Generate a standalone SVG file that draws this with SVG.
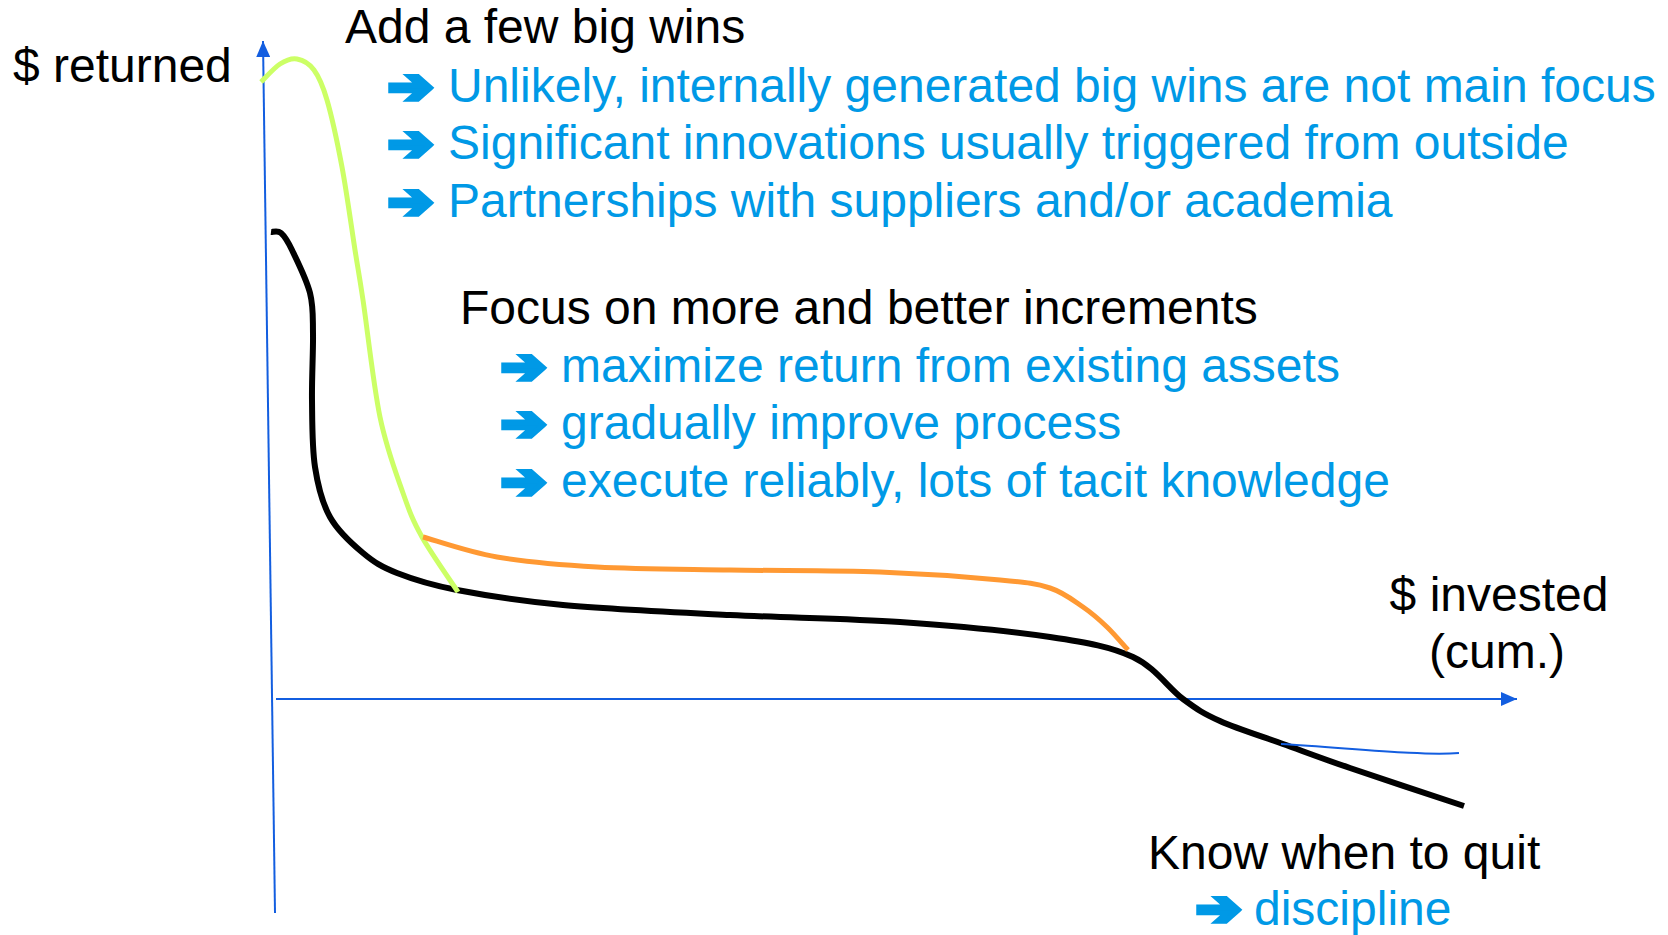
<svg xmlns="http://www.w3.org/2000/svg" width="1668" height="935" viewBox="0 0 1668 935">
<style>
text{font-family:"Liberation Sans",Arial,sans-serif;font-size:48px}
.k{fill:#000}
.b{fill:#0099e6}
.ar{font-family:"DejaVu Sans",sans-serif;fill:#0099e6;stroke:#0099e6;stroke-width:5;stroke-linejoin:miter;font-size:48px}
.axis{stroke:#135ee0;stroke-width:2;fill:none}
.curve{fill:none;stroke-linecap:butt;stroke-linejoin:round}
</style>
<defs>
<marker id="ah" viewBox="0 0 16 14" refX="16" refY="7" markerWidth="16" markerHeight="14" markerUnits="userSpaceOnUse" orient="auto">
<path d="M0,0 L16,7 L0,14 Z" fill="#135ee0"/>
</marker>
</defs>
<rect width="1668" height="935" fill="#fff"/>
<g id="axes">
<line class="axis" x1="275" y1="913" x2="263" y2="41" marker-end="url(#ah)"/>
<line class="axis" x1="276" y1="699" x2="1517" y2="699" marker-end="url(#ah)"/>
</g>
<g id="connectors">
<path id="curve-black" class="curve" stroke="#000" stroke-width="6" d="M271,232 C272.7,232.2 277.5,230 281,233 C284.5,236 287.2,240 292,250 C296.8,260 306.5,279.2 310,293 C313.5,306.8 312.7,315.2 313,333 C313.3,350.8 311.7,377.7 312,400 C312.3,422.3 312,447.5 315,467 C318,486.5 322,502.7 330,517 C338,531.3 351.8,543.7 363,553 C374.2,562.3 381.3,566.8 397,573 C412.7,579.2 429.3,584.7 457,590 C484.7,595.3 517.5,600.8 563,605 C608.5,609.2 673.8,612.2 730,615 C786.2,617.8 846.7,618.3 900,622 C953.3,625.7 1011.2,631.2 1050,637 C1088.8,642.8 1110.8,646.7 1133,657 C1155.2,667.3 1168.5,688.3 1183,699 C1197.5,709.7 1203.3,713.5 1220,721 C1236.7,728.5 1261.3,736.2 1283,744 C1304.7,751.8 1319.8,757.7 1350,768 C1380.2,778.3 1445,799.7 1464,806"/>
<path id="curve-green" class="curve" stroke="#ccff66" stroke-width="5" d="M261,82 C264.2,79 274,67.8 280,64 C286,60.2 291.3,58 297,59 C302.7,60 309,63.2 314,70 C319,76.8 322.3,83.8 327,100 C331.7,116.2 337.3,142 342,167 C346.7,192 351.5,227.8 355,250 C358.5,272.2 358.8,272.2 363,300 C367.2,327.8 373.3,384.8 380,417 C386.7,449.2 396,473 403,493 C410,513 412.8,520.5 422,537 C431.2,553.5 452,582.8 458,592"/>
<path id="curve-orange" class="curve" stroke="#ff9933" stroke-width="5" d="M423,537 C435.3,540.3 468,552 497,557 C526,562 558.2,564.8 597,567 C635.8,569.2 682.8,569.2 730,570 C777.2,570.8 835,570.3 880,572 C925,573.7 971.7,577.3 1000,580 C1028.3,582.7 1036.2,583.5 1050,588 C1063.8,592.5 1073.5,600.5 1083,607 C1092.5,613.5 1099.5,619.8 1107,627 C1114.5,634.2 1124.5,646.2 1128,650"/>
<path id="curve-blue" class="curve" stroke="#135ee0" stroke-width="2" d="M1281,744 C1350,748 1420,756 1459,753"/>
</g>
<g id="label-returned"><text class="k" x="13" y="82">$ returned</text></g>
<g id="label-invested">
<text class="k" x="1499" y="611" text-anchor="middle">$ invested</text>
<text class="k" x="1497" y="668" text-anchor="middle">(cum.)</text>
</g>
<g id="note-bigwins">
<text class="k" x="345" y="43">Add a few big wins</text>
<text class="ar" transform="translate(388,103) scale(1.12,1)">➔</text>
<text class="b" x="448" y="102">Unlikely, internally generated big wins are not main focus</text>
<text class="ar" transform="translate(388,160) scale(1.12,1)">➔</text>
<text class="b" x="448" y="159">Significant innovations usually triggered from outside</text>
<text class="ar" transform="translate(388,218) scale(1.12,1)">➔</text>
<text class="b" x="448" y="217">Partnerships with suppliers and/or academia</text>
</g>
<g id="note-increments">
<text class="k" x="460" y="324">Focus on more and better increments</text>
<text class="ar" transform="translate(501,383) scale(1.12,1)">➔</text>
<text class="b" x="561" y="382">maximize return from existing assets</text>
<text class="ar" transform="translate(501,440) scale(1.12,1)">➔</text>
<text class="b" x="561" y="439">gradually improve process</text>
<text class="ar" transform="translate(501,498) scale(1.12,1)">➔</text>
<text class="b" x="561" y="497">execute reliably, lots of tacit knowledge</text>
</g>
<g id="note-quit">
<text class="k" x="1148" y="869">Know when to quit</text>
<text class="ar" transform="translate(1196,925) scale(1.12,1)">➔</text>
<text class="b" x="1254" y="925">discipline</text>
</g>
</svg>
